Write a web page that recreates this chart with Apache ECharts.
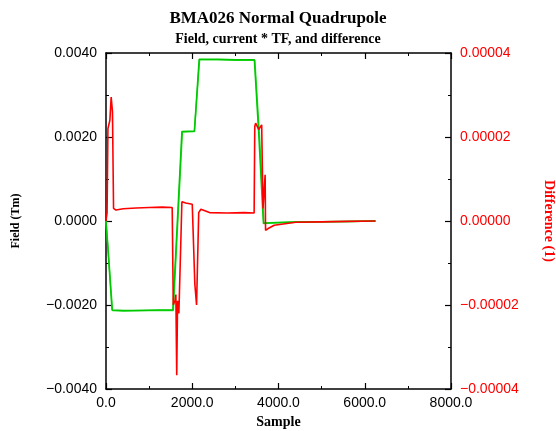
<!DOCTYPE html>
<html>
<head>
<meta charset="utf-8">
<script src="https://cdn.jsdelivr.net/npm/echarts@6/dist/echarts.min.js"></script>
<style>
  html, body { margin: 0; padding: 0; background: #fff; }
  #chart { width: 556px; height: 431px; }
</style>
</head>
<body>
<div id="chart"></div>
<script>
// field (Tm)
var fieldSamples = [0, 40, 140, 400, 800, 1200, 1550, 1760, 2050, 2160, 2600, 3000, 3440, 3540, 3650, 3800, 4400, 5000, 5600, 6250];
var fieldValues = [0, -0.0006, -0.00212, -0.00213, -0.00213, -0.00212, -0.00212, 0.00213, 0.00214, 0.00385, 0.00385, 0.00384, 0.00384, 0.0021, -0.00006, -0.00005, -0.00003, -0.00002, -0.00001, 0];

// current * TF, nearly on top of the field
var currentSamples = [0, 45, 150, 400, 800, 1200, 1560, 1770, 2050, 2170, 2600, 3000, 3450, 3560, 3660, 3800, 4400, 5000, 5600, 6250];
var currentValues = [0, -0.0006, -0.00213, -0.00214, -0.00213, -0.00213, -0.00213, 0.00212, 0.00213, 0.00384, 0.00384, 0.00383, 0.00383, 0.0020, -0.00004, -0.00004, -0.00002, -0.00002, -0.00001, 0];

// difference (1), red trace, right axis
var diffSamples = [0, 25, 45, 90, 120, 150, 175, 230, 400, 700, 1000, 1300, 1535, 1560, 1600, 1620, 1640, 1660, 1690, 1760, 1850, 2000, 2060, 2100, 2150, 2200, 2400, 2800, 3200, 3435, 3450, 3470, 3540, 3610, 3625, 3640, 3685, 3690, 3700, 3760, 3900, 4400, 5000, 5600, 6250];
var diffValues = [0, 0.000002, 0.000022, 0.000024, 0.0000295, 0.000026, 0.000003, 0.0000026, 0.0000029, 0.0000031, 0.0000032, 0.0000033, 0.0000032, -0.00002, -0.000019, -0.0000175, -0.0000367, -0.000019, -0.000022, 0.0000046, 0.0000043, 0.000004, -0.000015, -0.00002, 0.000002, 0.0000028, 0.000002, 0.0000019, 0.000002, 0.0000019, 0.0000225, 0.0000233, 0.0000218, 0.0000229, 0.0000225, 0.000003, 0.0000026, 0.000011, -0.0000022, -0.0000018, -0.000001, -0.0000003, -0.0000002, -0.0000001, 0];

var xTicks = [0, 2000, 4000, 6000, 8000];
var leftTicks = [-0.004, -0.002, 0, 0.002, 0.004];
var rightTicks = [-0.00004, -0.00002, 0, 0.00002, 0.00004];

function pairs(xs, ys) {
  return xs.map(function (x, i) { return [x, ys[i]]; });
}
function minus(s) { return s.replace('-', '\u2212'); }

var chart = echarts.init(document.getElementById('chart'));

var serif = '"Liberation Serif", "DejaVu Serif", serif';
var sans = '"Liberation Sans", Arial, sans-serif';

var tick = { show: true, inside: true, length: 6, lineStyle: { color: '#000', width: 1.2 } };
var minor = { show: true, splitNumber: 2, length: 3, lineStyle: { color: '#000', width: 1 } };
var line = { show: true, onZero: false, lineStyle: { color: '#000', width: 1.5 } };

var option = {
  animation: false,
  backgroundColor: '#fff',
  title: [
    { text: 'BMA026 Normal Quadrupole', left: 'center', top: 5,
      textStyle: { fontFamily: serif, fontWeight: 'bold', fontSize: 17, color: '#000' } },
    { text: 'Field, current * TF, and difference', left: 'center', top: 27,
      textStyle: { fontFamily: serif, fontWeight: 'bold', fontSize: 14, color: '#000' } }
  ],
  grid: { left: 106, right: 105, top: 53, bottom: 42, outerBoundsMode: 'none', containLabel: false },
  xAxis: [
    { type: 'value', min: xTicks[0], max: xTicks[xTicks.length - 1], interval: 2000,
      name: 'Sample', nameLocation: 'middle', nameGap: 25,
      nameTextStyle: { fontFamily: serif, fontWeight: 'bold', fontSize: 14, color: '#000' },
      axisLine: line, axisTick: tick, minorTick: minor, splitLine: { show: false },
      axisLabel: { fontFamily: sans, fontSize: 14, color: '#000', margin: 7,
        formatter: function (v) { return v.toFixed(1); } } },
    { type: 'value', position: 'top', min: xTicks[0], max: xTicks[xTicks.length - 1], interval: 2000,
      axisLine: line, axisTick: tick, minorTick: minor, splitLine: { show: false },
      axisLabel: { show: false } }
  ],
  yAxis: [
    { type: 'value', position: 'left', min: leftTicks[0], max: leftTicks[leftTicks.length - 1], interval: 0.002,
      name: 'Field (Tm)', nameLocation: 'middle', nameRotate: 90, nameGap: 84,
      nameTextStyle: { fontFamily: serif, fontWeight: 'bold', fontSize: 12, color: '#000' },
      axisLine: line, axisTick: tick, minorTick: minor, splitLine: { show: false },
      axisLabel: { fontFamily: sans, fontSize: 14, color: '#000', margin: 9,
        formatter: function (v) { return minus(v.toFixed(4)); } } },
    { type: 'value', position: 'right', min: rightTicks[0], max: rightTicks[rightTicks.length - 1], interval: 0.00002,
      name: 'Difference (1)', nameLocation: 'middle', nameRotate: -90, nameGap: 91,
      nameTextStyle: { fontFamily: serif, fontWeight: 'bold', fontSize: 14, color: '#ff0000' },
      axisLine: line, axisTick: tick, minorTick: minor, splitLine: { show: false },
      axisLabel: { fontFamily: sans, fontSize: 14, color: '#ff0000', margin: 9,
        formatter: function (v) { return minus(v.toFixed(5)); } } }
  ],
  series: [
    { name: 'current * TF', type: 'line', xAxisIndex: 0, yAxisIndex: 0, showSymbol: false,
      data: pairs(currentSamples, currentValues),
      lineStyle: { color: '#22dd22', width: 1.5 } },
    { name: 'Field', type: 'line', xAxisIndex: 0, yAxisIndex: 0, showSymbol: false,
      data: pairs(fieldSamples, fieldValues),
      lineStyle: { color: '#00c800', width: 1.5 } },
    { name: 'Difference', type: 'line', xAxisIndex: 0, yAxisIndex: 1, showSymbol: false,
      data: pairs(diffSamples, diffValues),
      lineStyle: { color: '#ff0000', width: 1.6 } }
  ]
};

chart.setOption(option);
</script>
</body>
</html>
